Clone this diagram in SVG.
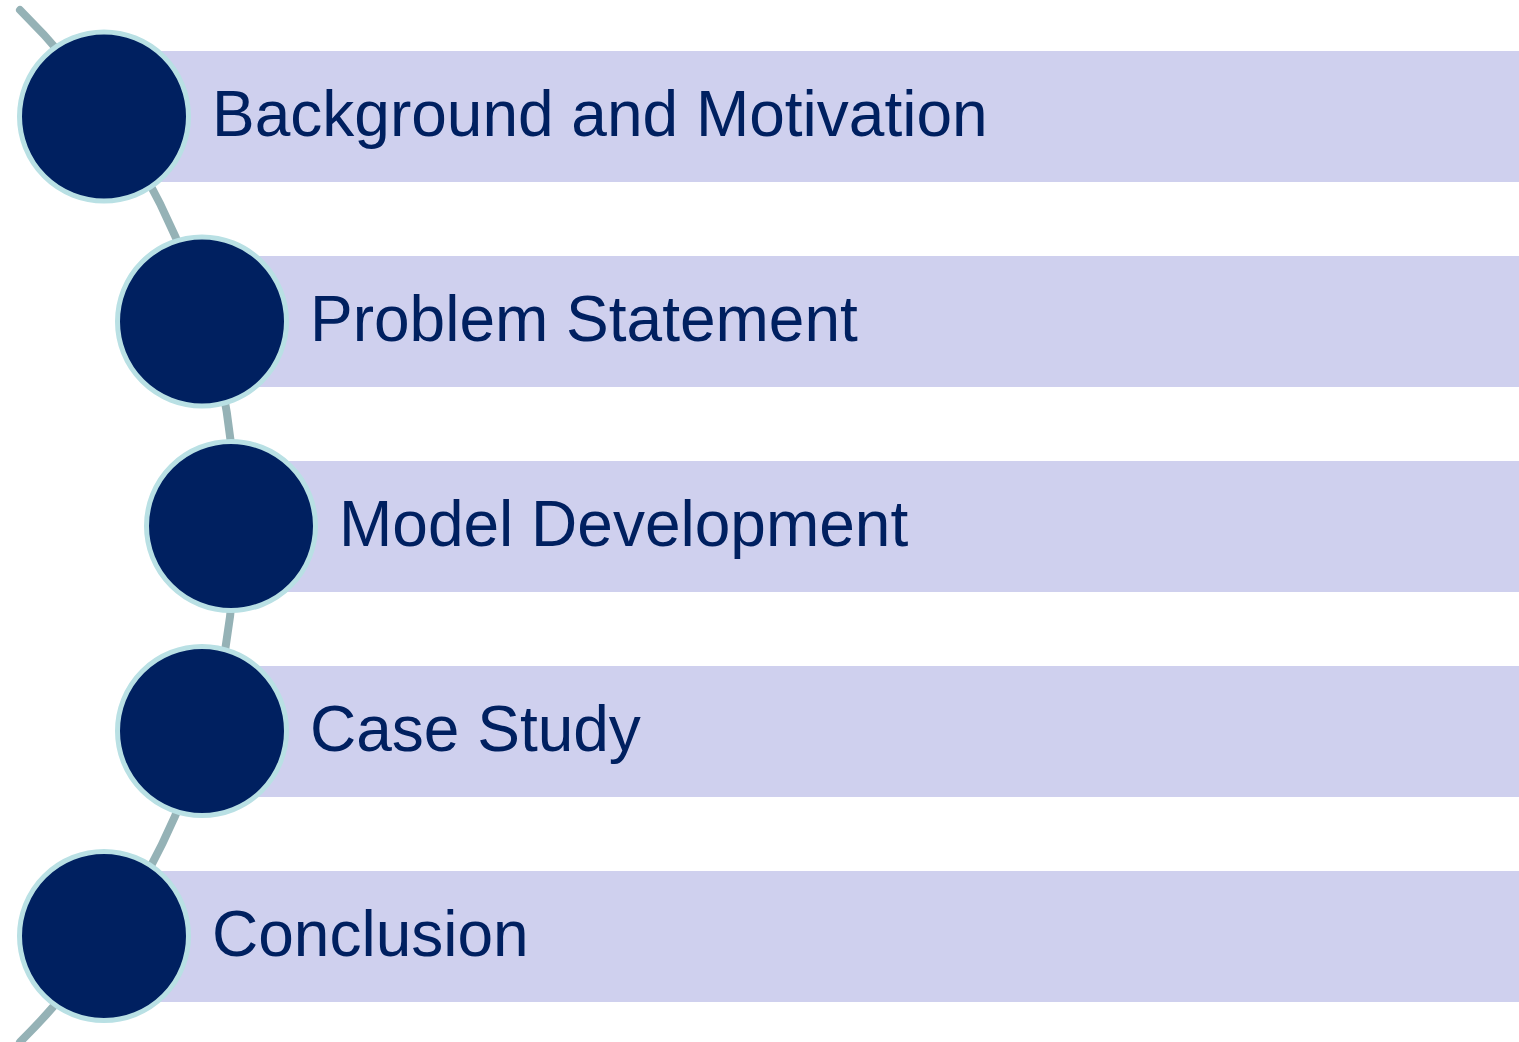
<svg xmlns="http://www.w3.org/2000/svg" width="1519" height="1042" viewBox="0 0 1519 1042">
  <style>
    .bar { fill: #CFD0EE; }
    .dot { fill: #002060; stroke: #B9E0E4; stroke-width: 5; }
    .label { font-family: "Liberation Sans", Arial, sans-serif; font-size: 64px; fill: #002060; }
    .spine { fill: none; stroke: #95B2B6; stroke-width: 8; stroke-linecap: round; }
  </style>
  <rect width="1519" height="1042" fill="#FFFFFF"/>

  <!-- curved spine linking the steps -->
  <g id="connectors">
    <path class="spine" d="M 20 10 A 725.3 725.3 0 0 1 20 1042"/>
  </g>

  <g id="step1">
    <rect class="bar" x="160" y="51" width="1359" height="131"/>
    <circle class="dot" cx="104" cy="116.5" r="84.5"/>
    <text class="label" x="212" y="136">Background and Motivation</text>
  </g>

  <g id="step2">
    <rect class="bar" x="258" y="256" width="1261" height="131"/>
    <circle class="dot" cx="202" cy="321.5" r="84.5"/>
    <text class="label" x="310" y="341">Problem Statement</text>
  </g>

  <g id="step3">
    <rect class="bar" x="287" y="461" width="1232" height="131"/>
    <circle class="dot" cx="231" cy="526" r="84.5"/>
    <text class="label" x="339" y="546">Model Development</text>
  </g>

  <g id="step4">
    <rect class="bar" x="258" y="666" width="1261" height="131"/>
    <circle class="dot" cx="202" cy="731" r="84.5"/>
    <text class="label" x="310" y="751">Case Study</text>
  </g>

  <g id="step5">
    <rect class="bar" x="160" y="871" width="1359" height="131"/>
    <circle class="dot" cx="104" cy="936" r="84.5"/>
    <text class="label" x="212" y="956">Conclusion</text>
  </g>
</svg>
